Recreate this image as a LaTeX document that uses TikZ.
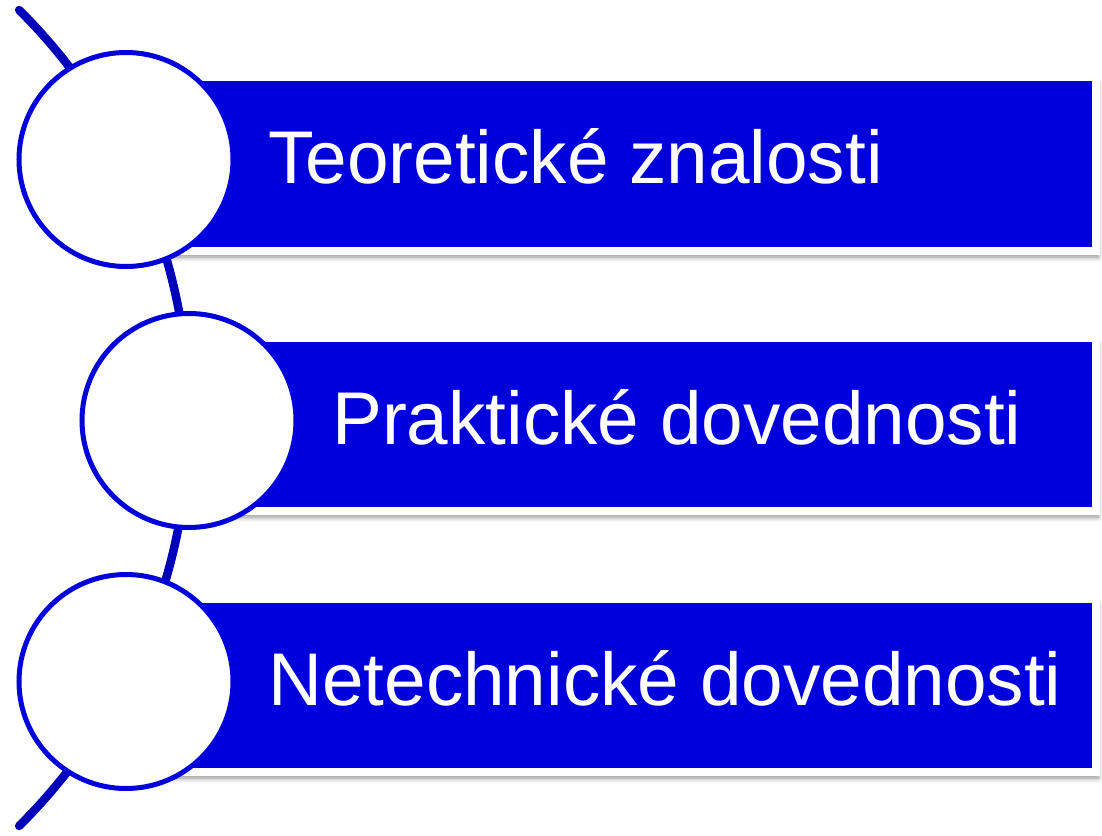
\documentclass[tikz,border=0pt]{standalone}
\usepackage{fontspec}
\setmainfont{Liberation Sans}
\usetikzlibrary{shadows.blur}
\definecolor{barblue}{RGB}{0,0,220}
\definecolor{arcblue}{RGB}{0,0,185}
\tikzset{
  bar/.style={draw=white, line width=8bp, fill=barblue, inner sep=0pt, anchor=north west,
    blur shadow={shadow xshift=2bp, shadow yshift=-6bp, shadow blur radius=5bp, shadow blur steps=8, shadow opacity=45}},
  bullet/.style={circle, draw=barblue, line width=5bp, fill=white, minimum size=214bp, inner sep=0pt},
  label/.style={text=white, anchor=base west, inner sep=0pt, font=\fontsize{75}{80}\selectfont}
}
\begin{document}
\begin{tikzpicture}[x=1bp, y=-1bp]
\useasboundingbox (0,0) rectangle (1102,836);
% arc
\coordinate (arcC) at (-386,418);
\draw[arcblue, line width=8.5bp, line cap=round] (arcC) ++(-45.2:575) arc[start angle=-45.2, end angle=45.2, radius=575];
% bars
\node[bar, minimum width=966bp, minimum height=174bp] (b1) at (126,73) {};
\node[bar, minimum width=903bp, minimum height=173bp] (b2) at (189,334) {};
\node[bar, minimum width=966bp, minimum height=173bp] (b3) at (126,595) {};
% circles
\node[bullet] (c1) at (126,159.5) {};
\node[bullet] (c2) at (189,420.5) {};
\node[bullet] (c3) at (126,681.5) {};
% texts
\node[label] (t1) at (268,183) {Teoretické znalosti};
\node[label] (t2) at (332,444) {Praktické dovednosti};
\node[label] (t3) at (268,705) {Netechnické dovednosti};
\end{tikzpicture}
\end{document}
